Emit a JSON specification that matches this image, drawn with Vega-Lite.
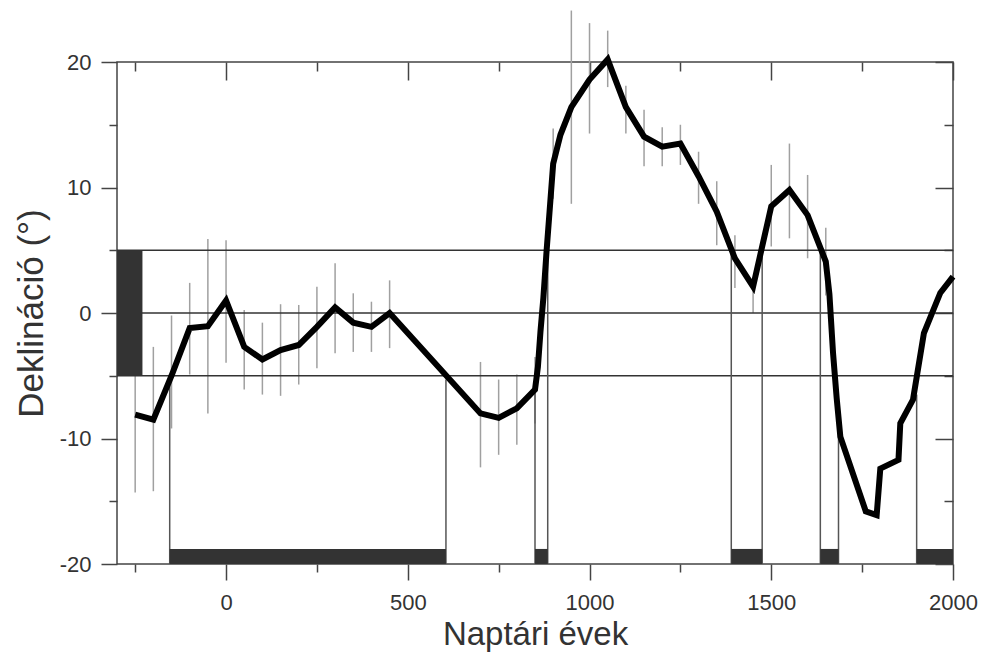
{
  "$schema": "https://vega.github.io/schema/vega-lite/v6.json",
  "width": 836,
  "height": 502,
  "autosize": {"type": "none"},
  "padding": {"left": 117, "top": 62, "right": 30, "bottom": 91},
  "background": "white",
  "config": {"view": {"stroke": "#444", "strokeWidth": 1.5}, "font": "Liberation Sans"},
  "datasets": {
    "curve": [
      {"year": -250, "decl": -8.1}, {"year": -200, "decl": -8.5}, {"year": -150, "decl": -5.0},
      {"year": -100, "decl": -1.2}, {"year": -50, "decl": -1.05}, {"year": 0, "decl": 1.0},
      {"year": 50, "decl": -2.7}, {"year": 100, "decl": -3.7}, {"year": 150, "decl": -2.95},
      {"year": 200, "decl": -2.55}, {"year": 250, "decl": -1.1}, {"year": 300, "decl": 0.45},
      {"year": 350, "decl": -0.77}, {"year": 400, "decl": -1.1}, {"year": 450, "decl": 0.0},
      {"year": 700, "decl": -8.0}, {"year": 750, "decl": -8.35}, {"year": 800, "decl": -7.6},
      {"year": 850, "decl": -6.1}, {"year": 858, "decl": -4.3}, {"year": 865, "decl": -1.5},
      {"year": 873, "decl": 1.2}, {"year": 882, "decl": 5.0}, {"year": 900, "decl": 11.9},
      {"year": 920, "decl": 14.2}, {"year": 950, "decl": 16.4}, {"year": 1000, "decl": 18.6},
      {"year": 1050, "decl": 20.2}, {"year": 1100, "decl": 16.4}, {"year": 1150, "decl": 14.05},
      {"year": 1200, "decl": 13.25}, {"year": 1250, "decl": 13.5}, {"year": 1300, "decl": 10.9},
      {"year": 1350, "decl": 8.07}, {"year": 1400, "decl": 4.35}, {"year": 1450, "decl": 2.1},
      {"year": 1500, "decl": 8.5}, {"year": 1550, "decl": 9.8}, {"year": 1600, "decl": 7.8},
      {"year": 1650, "decl": 4.1}, {"year": 1660, "decl": 1.5}, {"year": 1670, "decl": -3.2},
      {"year": 1680, "decl": -6.8}, {"year": 1690, "decl": -9.85}, {"year": 1760, "decl": -15.8},
      {"year": 1790, "decl": -16.1}, {"year": 1800, "decl": -12.4}, {"year": 1850, "decl": -11.7},
      {"year": 1855, "decl": -8.8}, {"year": 1890, "decl": -6.9}, {"year": 1920, "decl": -1.6},
      {"year": 1965, "decl": 1.6}, {"year": 2000, "decl": 2.9}
    ],
    "errors": [
      {"year": -250, "lo": -14.3, "hi": -1.9}, {"year": -200, "lo": -14.2, "hi": -2.7},
      {"year": -150, "lo": -9.2, "hi": -0.2}, {"year": -100, "lo": -4.9, "hi": 2.4},
      {"year": -50, "lo": -8.0, "hi": 5.9}, {"year": 0, "lo": -3.96, "hi": 5.8},
      {"year": 50, "lo": -6.1, "hi": 0.24}, {"year": 100, "lo": -6.5, "hi": -0.77},
      {"year": 150, "lo": -6.6, "hi": 0.7}, {"year": 200, "lo": -5.7, "hi": 0.64},
      {"year": 250, "lo": -4.4, "hi": 2.1}, {"year": 300, "lo": -3.2, "hi": 3.96},
      {"year": 350, "lo": -3.1, "hi": 1.57}, {"year": 400, "lo": -3.1, "hi": 0.9},
      {"year": 450, "lo": -2.8, "hi": 2.6}, {"year": 700, "lo": -12.3, "hi": -3.9},
      {"year": 750, "lo": -11.3, "hi": -5.3}, {"year": 800, "lo": -10.5, "hi": -4.9},
      {"year": 850, "lo": -8.8, "hi": -3.5}, {"year": 900, "lo": 9.1, "hi": 14.7},
      {"year": 950, "lo": 8.7, "hi": 24.1}, {"year": 1000, "lo": 14.3, "hi": 23.1},
      {"year": 1050, "lo": 18.0, "hi": 22.5}, {"year": 1100, "lo": 14.3, "hi": 18.1},
      {"year": 1150, "lo": 11.7, "hi": 16.2}, {"year": 1200, "lo": 11.7, "hi": 14.8},
      {"year": 1250, "lo": 11.8, "hi": 15.0}, {"year": 1300, "lo": 8.7, "hi": 12.85},
      {"year": 1350, "lo": 5.4, "hi": 10.5}, {"year": 1400, "lo": 2.0, "hi": 6.2},
      {"year": 1450, "lo": 0.0, "hi": 2.6}, {"year": 1500, "lo": 5.3, "hi": 11.8},
      {"year": 1550, "lo": 5.95, "hi": 13.5}, {"year": 1600, "lo": 4.36, "hi": 11.0},
      {"year": 1650, "lo": 1.4, "hi": 6.8}
    ],
    "hlines": [
      {"from": -300, "to": 2000, "level": 5},
      {"from": -300, "to": 2000, "level": 0},
      {"from": -300, "to": 2000, "level": -5}
    ],
    "leftbox": [{"x0": -300, "x1": -230, "y0": -5, "y1": 5}],
    "periods": [
      {"start": -155, "end": 605, "lo": -20, "hi": -18.8},
      {"start": 850, "end": 885, "lo": -20, "hi": -18.8},
      {"start": 1390, "end": 1475, "lo": -20, "hi": -18.8},
      {"start": 1635, "end": 1685, "lo": -20, "hi": -18.8},
      {"start": 1900, "end": 2000, "lo": -20, "hi": -18.8}
    ],
    "bounds": [
      {"year": -155, "lo": -20, "top": -5.3}, {"year": 605, "lo": -20, "top": -5.3},
      {"year": 850, "lo": -20, "top": -6.1}, {"year": 885, "lo": -20, "top": 6.0},
      {"year": 1390, "lo": -20, "top": 5.0}, {"year": 1475, "lo": -20, "top": 5.5},
      {"year": 1635, "lo": -20, "top": 5.0}, {"year": 1685, "lo": -20, "top": -8.5},
      {"year": 1900, "lo": -20, "top": -6.5}
    ]
  },
  "resolve": {"axis": {"x": "independent", "y": "independent"}},
  "layer": [
    {
      "data": {"name": "errors"},
      "mark": {"type": "rule", "color": "#a0a0a0", "strokeWidth": 1.5, "clip": false},
      "encoding": {
        "x": {
          "field": "year", "type": "quantitative",
          "scale": {"domain": [-300, 2000], "nice": false, "zero": false},
          "axis": {
            "orient": "bottom",
            "values": [-250, 0, 250, 500, 750, 1000, 1250, 1500, 1750, 2000],
            "labelExpr": "datum.value % 500 === 0 ? '' + datum.value : ''",
            "domain": false, "grid": false,
            "tickColor": "#444", "tickWidth": 1.5,
            "tickSize": {"condition": {"test": "datum.value % 500 === 0", "value": 16}, "value": 8},
            "labelFont": "Liberation Sans", "labelFontSize": 22, "labelColor": "#333",
            "labelPadding": 12, "labelOverlap": false, "labelBound": false, "labelFlush": false,
            "title": "Naptári évek", "titleFont": "Liberation Sans", "titleFontSize": 33,
            "titleFontWeight": "normal", "titleColor": "#333", "titlePadding": 5
          }
        },
        "y": {
          "field": "lo", "type": "quantitative",
          "scale": {"domain": [-20, 20], "nice": false, "zero": false},
          "axis": {
            "orient": "left",
            "values": [-20, -15, -10, -5, 0, 5, 10, 15, 20],
            "labelExpr": "datum.value % 10 === 0 ? '' + datum.value : ''",
            "domain": false, "grid": false,
            "tickColor": "#444", "tickWidth": 1.5,
            "tickSize": {"condition": {"test": "datum.value % 10 === 0", "value": 16}, "value": 8},
            "labelFont": "Liberation Sans", "labelFontSize": 22, "labelColor": "#333",
            "labelPadding": 10, "labelOverlap": false, "labelBound": false, "labelFlush": false,
            "title": "Deklináció (°)", "titleFont": "Liberation Sans", "titleFontSize": 35,
            "titleFontWeight": "normal", "titleColor": "#333", "titlePadding": 10
          }
        },
        "y2": {"field": "hi"}
      }
    },
    {
      "data": {"name": "hlines"},
      "mark": {"type": "rule", "color": "#333", "strokeWidth": 1.5},
      "encoding": {
        "x": {"field": "from", "type": "quantitative", "axis": null},
        "x2": {"field": "to"},
        "y": {"field": "level", "type": "quantitative", "axis": null}
      }
    },
    {
      "data": {"name": "leftbox"},
      "mark": {"type": "rect", "color": "#333"},
      "encoding": {
        "x": {"field": "x0", "type": "quantitative", "axis": null},
        "x2": {"field": "x1"},
        "y": {"field": "y0", "type": "quantitative", "axis": null},
        "y2": {"field": "y1"}
      }
    },
    {
      "data": {"name": "bounds"},
      "mark": {"type": "rule", "color": "#555", "strokeWidth": 1.5},
      "encoding": {
        "x": {"field": "year", "type": "quantitative", "axis": null},
        "y": {"field": "lo", "type": "quantitative", "axis": null},
        "y2": {"field": "top"}
      }
    },
    {
      "data": {"name": "periods"},
      "mark": {"type": "rect", "color": "#333"},
      "encoding": {
        "x": {"field": "start", "type": "quantitative", "axis": null},
        "x2": {"field": "end"},
        "y": {"field": "lo", "type": "quantitative", "axis": null},
        "y2": {"field": "hi"}
      }
    },
    {
      "data": {"name": "curve"},
      "mark": {"type": "line", "color": "#000", "strokeWidth": 6, "strokeJoin": "miter", "clip": false},
      "encoding": {
        "x": {
          "field": "year", "type": "quantitative",
          "axis": {
            "orient": "top",
            "values": [-250, 0, 250, 500, 750, 1000, 1250, 1500, 1750, 2000],
            "labels": false, "domain": false, "grid": false, "title": null,
            "tickColor": "#444", "tickWidth": 1.5,
            "tickSize": {"condition": {"test": "datum.value % 500 === 0", "value": -18}, "value": -9}
          }
        },
        "y": {
          "field": "decl", "type": "quantitative",
          "axis": {
            "orient": "right",
            "values": [-20, -15, -10, -5, 0, 5, 10, 15, 20],
            "labels": false, "domain": false, "grid": false, "title": null,
            "tickColor": "#444", "tickWidth": 1.5,
            "tickSize": {"condition": {"test": "datum.value % 10 === 0", "value": -18}, "value": -9}
          }
        }
      }
    }
  ]
}
